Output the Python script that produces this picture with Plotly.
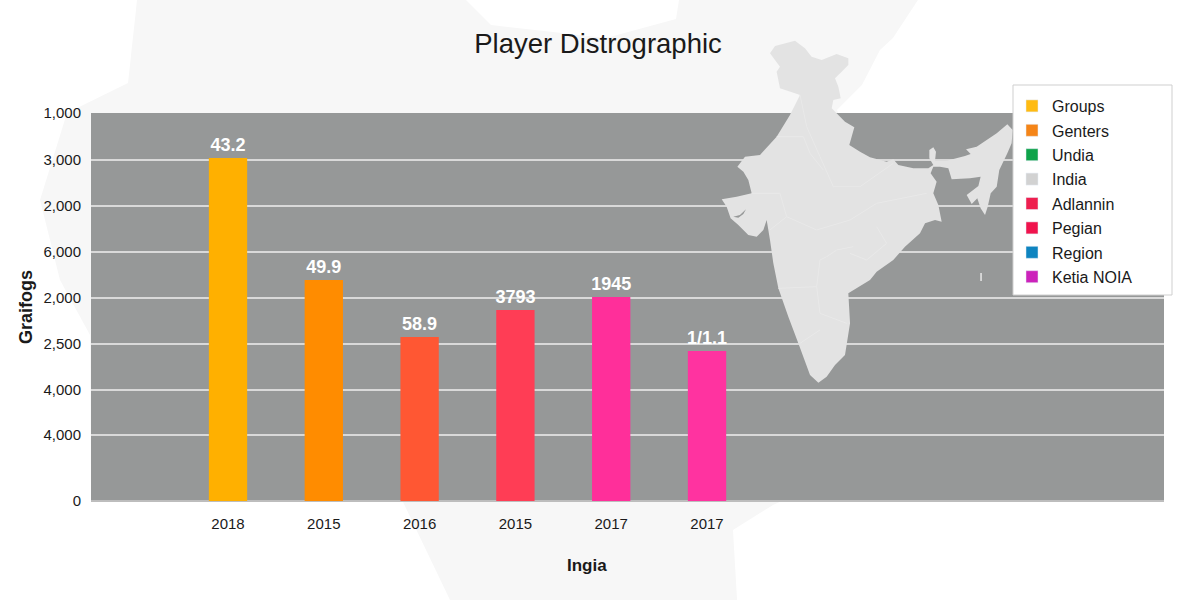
import plotly.graph_objects as go

# chart values (y is in axis position units, the tick labels in the source are not in order)
bar_years = ["2018", "2015", "2016", "2015", "2017", "2017"]
bar_values = [343, 221, 164, 191, 204, 150]
bar_labels = ["43.2", "49.9", "58.9", "3793", "1945", "1/1.1"]
bar_colors = ["#FFB000", "#FF8C00", "#FF5733", "#FF3D55", "#FF2F9A", "#FF33A0"]
y_tick_pos = [0, 66, 111, 157, 203, 249, 295, 341, 388]
y_tick_text = ["0", "4,000", "4,000", "2,500", "2,000", "6,000", "2,000", "3,000", "1,000"]
legend_names = ["Groups", "Genters", "Undia", "India", "Adlannin", "Pegian", "Region", "Ketia NOIA"]
legend_colors = ["#FFBB12", "#F58518", "#0FA34A", "#D2D2D2", "#EE1F4F", "#F0134D", "#0E84C0", "#CC22BB"]

FONT = "Liberation Sans"
L, R, T, B = 91, 36, 113, 99
PLOT_GREY = "#969898"

# decoration outlines, traced in page pixels
backdrop = [(137, 0), (128, 83), (67, 113), (40, 200), (60, 280), (90, 335), (91, 501), (403, 502),
            (450, 600), (737, 600), (733, 530), (773, 505), (1000, 400), (855, 153), (837, 110), (862, 85),
            (880, 50), (893, 38), (918, 0), (679, 0), (676, 19), (606, 38), (491, 25), (466, 0)]
india = [(150, 70), (165, 48), (225, 32), (255, 55), (275, 80), (305, 90), (350, 72), (385, 85), (385, 105),
         (365, 125), (345, 145), (355, 170), (362, 205), (340, 210), (335, 235), (355, 255), (375, 275),
         (403, 292), (395, 320), (388, 345), (420, 365), (450, 382), (500, 395), (520, 388), (535, 405),
         (580, 415), (625, 415), (640, 405), (628, 385), (628, 360), (640, 352), (648, 365), (645, 392),
         (680, 392), (735, 378), (752, 372), (738, 358), (770, 350), (830, 310), (862, 283), (878, 300),
         (875, 340), (862, 370), (838, 420), (830, 470), (812, 490), (803, 530), (795, 555), (782, 535),
         (772, 505), (755, 522), (740, 495), (775, 468), (782, 440), (750, 445), (695, 448), (685, 415),
         (660, 410), (640, 410), (632, 430), (650, 455), (640, 490), (655, 525), (665, 575), (645, 570),
         (615, 580), (600, 610), (555, 650), (520, 690), (470, 725), (450, 750), (385, 790), (390, 880),
         (375, 975), (345, 1005), (320, 1040), (295, 1058), (270, 1035), (235, 940), (205, 860), (175, 775),
         (160, 700), (150, 630), (140, 570), (130, 600), (110, 620), (85, 615), (55, 585), (32, 565),
         (20, 530), (5, 508), (50, 500), (95, 490), (85, 450), (70, 425), (52, 410), (75, 380), (120, 375),
         (170, 320), (210, 255), (240, 195), (180, 175), (170, 125), (180, 110)]
gulf = [(40, 560), (60, 555), (78, 538), (70, 552), (55, 563)]
state_lines = [
    [(240, 195), (260, 290), (300, 380), (340, 470), (420, 470), (520, 400)],
    [(170, 320), (250, 320), (270, 370), (310, 420)],
    [(95, 490), (180, 490), (200, 560), (150, 600)],
    [(200, 560), (290, 600), (390, 570), (470, 520), (620, 490)],
    [(390, 670), (440, 690), (500, 640), (470, 590)],
    [(320, 680), (350, 660), (400, 650)],
    [(175, 775), (290, 770), (300, 690), (320, 680)],
    [(290, 770), (300, 850), (380, 880)],
    [(240, 940), (300, 900)],
]


def to_paper(x, y):
    return (x - L) / (1200 - L - R), (600 - B - y) / (600 - T - B)


def page_path(points, close=True):
    pts = [to_paper(x, y) for x, y in points]
    d = "M" + " L".join(f"{x:.4f},{y:.4f}" for x, y in pts)
    return d + " Z" if close else d


def crop(points):
    return [(720 + x / 3, 30 + y / 3) for x, y in points]


box_x0, box_y0 = to_paper(1013, 85)
box_x1, box_y1 = to_paper(1172, 295)

shapes = [
    dict(type="path", path=page_path(backdrop), xref="paper", yref="paper", layer="below",
         fillcolor="#F7F7F7", line_width=0),
    dict(type="rect", x0=0, x1=1, y0=0, y1=1, xref="paper", yref="paper", layer="below",
         fillcolor=PLOT_GREY, line_width=0),
    dict(type="path", path=page_path(crop(india)), xref="paper", yref="paper", layer="above",
         fillcolor="#E3E3E3", line_width=0),
    dict(type="path", path=page_path(crop(gulf)), xref="paper", yref="paper", layer="above",
         fillcolor=PLOT_GREY, line_width=0),
]
for seg in state_lines:
    shapes.append(dict(type="path", path=page_path(crop(seg), close=False), xref="paper", yref="paper",
                       layer="above", line=dict(color="#E9E9E9", width=1)))
shapes.append(dict(type="path", path=page_path([(981, 273), (981, 281)], close=False), xref="paper", yref="paper",
                   layer="above", line=dict(color="#E8E8E8", width=1.5)))
# legend box, larger than the row block plotly would pad on its own
shapes.append(dict(type="rect", x0=box_x0, x1=box_x1, y0=box_y1, y1=box_y0, xref="paper", yref="paper",
                   layer="above", fillcolor="white", line=dict(color="#CFCFCF", width=1)))

fig = go.Figure()
fig.add_trace(go.Bar(
    x=list(range(len(bar_values))),
    y=bar_values,
    width=0.4,
    marker=dict(color=bar_colors, line_width=0),
    text=bar_labels,
    textposition="outside",
    textangle=0,
    cliponaxis=False,
    constraintext="none",
    textfont=dict(family=FONT, size=18, color="white", weight="bold"),
    showlegend=False,
))
# legend entries do not map onto the bars, so they get empty traces
for name, color in zip(legend_names, legend_colors):
    fig.add_trace(go.Bar(x=[None], y=[None], name=name, marker_color=color, legendgroup=name))

fig.update_layout(
    width=1200,
    height=600,
    margin=dict(l=L, r=R, t=T, b=B, pad=0),
    barmode="overlay",
    paper_bgcolor="white",
    plot_bgcolor="rgba(0,0,0,0)",
    font=dict(family=FONT, size=15, color="#1A1A1A"),
    title=dict(text="Player Distrographic", x=598 / 1200, xanchor="center", y=1 - 43 / 600, yanchor="middle",
               font=dict(family=FONT, size=27.5, color="#1A1A1A")),
    shapes=shapes,
    legend=dict(
        x=to_paper(1012, 89)[0], y=to_paper(1012, 89)[1], xanchor="left", yanchor="top",
        bgcolor="rgba(0,0,0,0)", borderwidth=0,
        traceorder="grouped", tracegroupgap=0.6, font=dict(family=FONT, size=16, color="#1A1A1A"),
    ),
    annotations=[dict(text="<b>Ingia</b>", xref="paper", yref="paper", x=to_paper(587, 565)[0],
                      y=to_paper(587, 565)[1], xanchor="center", yanchor="middle", showarrow=False,
                      font=dict(family=FONT, size=17, color="#1A1A1A"))],
)
fig.update_xaxes(
    range=[-1.43, 9.77],
    tickvals=list(range(len(bar_years))),
    ticktext=bar_years,
    showgrid=False,
    zeroline=False,
    ticks="outside",
    ticklen=9,
    tickcolor="rgba(0,0,0,0)",
    tickfont=dict(family=FONT, size=15, color="#1A1A1A"),
)
fig.update_yaxes(
    range=[0, 388],
    tickvals=y_tick_pos,
    ticktext=y_tick_text,
    showgrid=True,
    gridcolor="#D9D9D9",
    gridwidth=2,
    zeroline=True,
    zerolinecolor="#BDBDBD",
    zerolinewidth=2,
    ticks="outside",
    ticklen=6,
    tickcolor="rgba(0,0,0,0)",
    tickfont=dict(family=FONT, size=15, color="#1A1A1A"),
    title=dict(text="<b>Graifogs</b>", standoff=6, font=dict(family=FONT, size=18, color="#1A1A1A")),
)

# the page's default body margin would push the figure 8px off
fig.write_html("out.html", config={"displayModeBar": False}, post_script="document.body.style.margin='0';")
